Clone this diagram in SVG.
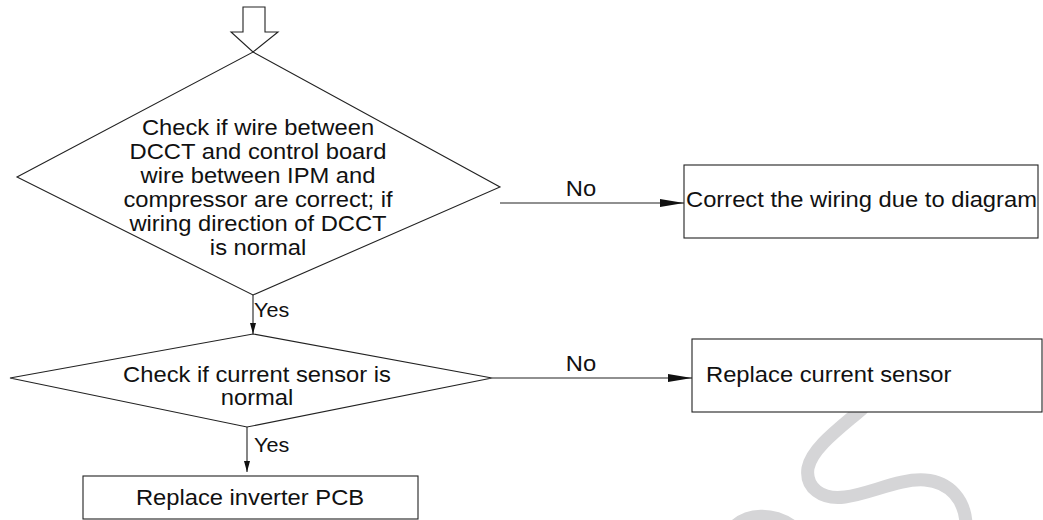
<svg xmlns="http://www.w3.org/2000/svg" width="1043" height="520" viewBox="0 0 1043 520">
<defs>
<style>
.shape{fill:#fff;stroke:#222;stroke-width:1.1}
.line{fill:none;stroke:#222;stroke-width:1.1}
.t{font-family:"Liberation Sans",Arial,sans-serif;font-size:22px;fill:#111}
.wm{fill:none;stroke:#d5d5d7;stroke-width:13;stroke-linecap:round}
</style>
<marker id="big" markerWidth="24" markerHeight="8" refX="24" refY="4" orient="auto" markerUnits="userSpaceOnUse">
<path d="M0,0 L24,4 L0,8 Z" fill="#111"/>
</marker>
<marker id="small" markerWidth="11" markerHeight="6" refX="11" refY="3" orient="auto" markerUnits="userSpaceOnUse">
<path d="M0,0 L11,3 L0,6 Z" fill="#111"/>
</marker>
</defs>
<rect width="1043" height="520" fill="#fff"/>
<g id="watermark">
<path class="wm" d="M862,409 C840,428 812,448 808,468 C805,488 822,500 845,497 C870,494 900,478 925,480 C950,482 965,500 966,524"/>
<path class="wm" d="M735,526 C748,514 772,512 792,526"/>
</g>
<g id="start-arrow">
<path class="shape" d="M243,7 L265,7 L265,32 L278,32 L253,52 L231,32 L243,32 Z"/>
</g>
<g id="decision1">
<path class="shape" d="M253,52 L500,187 L253,295 L17,177 Z"/>
<g transform="translate(258,0) scale(1.08,1)">
<text class="t" text-anchor="middle" x="0" y="135">Check if wire between</text>
<text class="t" text-anchor="middle" x="0" y="159">DCCT and control board</text>
<text class="t" text-anchor="middle" x="0" y="183">wire between IPM and</text>
<text class="t" text-anchor="middle" x="0" y="207">compressor are correct; if</text>
<text class="t" text-anchor="middle" x="0" y="231">wiring direction of DCCT</text>
<text class="t" text-anchor="middle" x="0" y="255">is normal</text>
</g>
</g>
<g id="box1">
<rect class="shape" x="684" y="165" width="354" height="73"/>
<g transform="translate(686,0) scale(1.08,1)">
<text class="t" x="0" y="207">Correct the wiring due to diagram</text>
</g>
</g>
<g id="decision2">
<path class="shape" d="M253,334 L492,378 L247,427 L10,378 Z"/>
<g transform="translate(257,0) scale(1.08,1)">
<text class="t" text-anchor="middle" x="0" y="382">Check if current sensor is</text>
<text class="t" text-anchor="middle" x="0" y="405">normal</text>
</g>
</g>
<g id="box2">
<rect class="shape" x="692" y="339" width="350" height="73"/>
<g transform="translate(706,0) scale(1.08,1)">
<text class="t" x="0" y="382">Replace current sensor</text>
</g>
</g>
<g id="box3">
<rect class="shape" x="83" y="476" width="335" height="43"/>
<g transform="translate(250,0) scale(1.08,1)">
<text class="t" text-anchor="middle" x="0" y="505">Replace inverter PCB</text>
</g>
</g>
<g id="connectors">
<line class="line" x1="500" y1="203" x2="684" y2="203" marker-end="url(#big)"/>
<line class="line" x1="492" y1="378" x2="692" y2="378" marker-end="url(#big)"/>
<line class="line" x1="253" y1="295" x2="253" y2="334" marker-end="url(#small)"/>
<line class="line" x1="247" y1="427" x2="247" y2="472" marker-end="url(#small)"/>
<g transform="translate(581,0) scale(1.08,1)">
<text class="t" text-anchor="middle" x="0" y="196">No</text>
<text class="t" text-anchor="middle" x="0" y="371">No</text>
</g>
<g transform="translate(254,0) scale(1.08,1)">
<text class="t" style="font-size:20px" x="0" y="317">Yes</text>
<text class="t" style="font-size:20px" x="0" y="452">Yes</text>
</g>
</g>
</svg>
